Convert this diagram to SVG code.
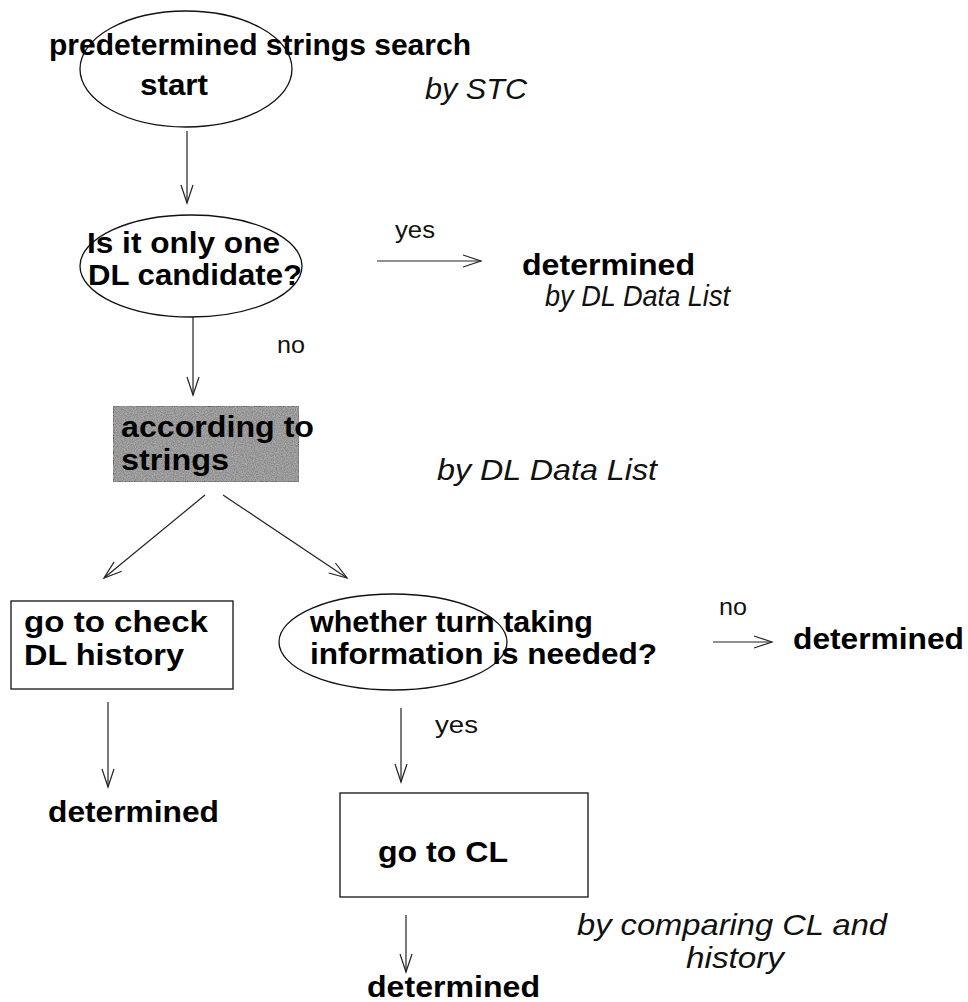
<svg xmlns="http://www.w3.org/2000/svg" width="968" height="1002" viewBox="0 0 968 1002">
<defs>
<style>
.b{font-family:"Liberation Sans",Arial,sans-serif;font-weight:bold;font-size:30px;fill:#000}
.i{font-family:"Liberation Sans",Arial,sans-serif;font-style:italic;font-size:29px;fill:#111}
.s{font-family:"Liberation Sans",Arial,sans-serif;font-size:23px;fill:#111}
.sh{fill:none;stroke:#111;stroke-width:1.3}
.c{fill:none;stroke:#222;stroke-width:1.2}
</style>
<marker id="ah" markerUnits="userSpaceOnUse" markerWidth="24" markerHeight="16" refX="18" refY="6" orient="auto" overflow="visible">
<path d="M0,0 L18,6 L0,12" fill="none" stroke="#222" stroke-width="1.2"/>
</marker>
<filter id="grain" x="0" y="0" width="100%" height="100%">
<feTurbulence type="fractalNoise" baseFrequency="0.9" numOctaves="2" seed="3" result="n"/>
<feColorMatrix in="n" type="matrix" values="0 0 0 0 0.5  0 0 0 0 0.5  0 0 0 0 0.5  0 0 0 1.4 -0.4" result="g"/>
<feComposite in="g" in2="SourceGraphic" operator="in" result="gi"/>
<feMerge><feMergeNode in="SourceGraphic"/><feMergeNode in="gi"/></feMerge>
</filter>
</defs>
<rect width="968" height="1002" fill="#fff"/>

<g id="connectors">
<line class="c" x1="187" y1="131" x2="187" y2="203" marker-end="url(#ah)"/>
<line class="c" x1="377" y1="261" x2="481" y2="261" marker-end="url(#ah)"/>
<line class="c" x1="193" y1="317" x2="193" y2="395" marker-end="url(#ah)"/>
<line class="c" x1="205" y1="495" x2="104" y2="578" marker-end="url(#ah)"/>
<line class="c" x1="223" y1="495" x2="347" y2="578" marker-end="url(#ah)"/>
<line class="c" x1="713" y1="642" x2="772" y2="642" marker-end="url(#ah)"/>
<line class="c" x1="108" y1="702" x2="108" y2="787" marker-end="url(#ah)"/>
<line class="c" x1="401" y1="708" x2="401" y2="782" marker-end="url(#ah)"/>
<line class="c" x1="406" y1="915" x2="406" y2="972" marker-end="url(#ah)"/>
</g>

<g id="labels">
<text class="s" x="395" y="238" textLength="40" lengthAdjust="spacingAndGlyphs">yes</text>
<text class="s" x="277" y="353" textLength="28" lengthAdjust="spacingAndGlyphs">no</text>
<text class="s" x="719" y="615" textLength="28" lengthAdjust="spacingAndGlyphs">no</text>
<text class="s" x="435" y="733" textLength="43" lengthAdjust="spacingAndGlyphs">yes</text>
</g>

<g id="start">
<ellipse class="sh" cx="186" cy="69" rx="106" ry="58"/>
<text class="b" x="49" y="55" textLength="422" lengthAdjust="spacingAndGlyphs">predetermined strings search</text>
<text class="b" x="140" y="95" textLength="68" lengthAdjust="spacingAndGlyphs">start</text>
<text class="i" x="425" y="99" textLength="102" lengthAdjust="spacingAndGlyphs">by STC</text>
</g>

<g id="q1">
<ellipse class="sh" cx="191" cy="266" rx="111" ry="51"/>
<text class="b" x="87" y="253" textLength="193" lengthAdjust="spacingAndGlyphs">Is it only one</text>
<text class="b" x="88" y="285" textLength="214" lengthAdjust="spacingAndGlyphs">DL candidate?</text>
</g>

<g id="det1">
<text class="b" x="522" y="275" textLength="173" lengthAdjust="spacingAndGlyphs">determined</text>
<text class="i" x="545" y="306" textLength="185" lengthAdjust="spacingAndGlyphs">by DL Data List</text>
</g>

<g id="strings">
<rect x="113" y="406" width="186" height="76" fill="#888" stroke="#444" stroke-width="1.2" filter="url(#grain)"/>
<text class="b" x="121" y="437" textLength="193" lengthAdjust="spacingAndGlyphs">according to</text>
<text class="b" x="121" y="470" textLength="108" lengthAdjust="spacingAndGlyphs">strings</text>
<text class="i" x="437" y="480" textLength="220" lengthAdjust="spacingAndGlyphs">by DL Data List</text>
</g>

<g id="history">
<rect class="sh" x="11" y="601" width="222" height="88"/>
<text class="b" x="24" y="632" textLength="184" lengthAdjust="spacingAndGlyphs">go to check</text>
<text class="b" x="24" y="665" textLength="160" lengthAdjust="spacingAndGlyphs">DL history</text>
</g>

<g id="q2">
<ellipse class="sh" cx="393" cy="642" rx="114" ry="48"/>
<text class="b" x="310" y="632" textLength="283" lengthAdjust="spacingAndGlyphs">whether turn taking</text>
<text class="b" x="310" y="664" textLength="347" lengthAdjust="spacingAndGlyphs">information is needed?</text>
</g>

<g id="det2">
<text class="b" x="793" y="649" textLength="171" lengthAdjust="spacingAndGlyphs">determined</text>
</g>

<g id="det3">
<text class="b" x="48" y="822" textLength="171" lengthAdjust="spacingAndGlyphs">determined</text>
</g>

<g id="cl">
<rect class="sh" x="340" y="793" width="248" height="104"/>
<text class="b" x="378" y="862" textLength="130" lengthAdjust="spacingAndGlyphs">go to CL</text>
<text class="i" x="577" y="935" textLength="310" lengthAdjust="spacingAndGlyphs">by comparing CL and</text>
<text class="i" x="686" y="968" textLength="98" lengthAdjust="spacingAndGlyphs">history</text>
</g>

<g id="det4">
<text class="b" x="367" y="997" textLength="173" lengthAdjust="spacingAndGlyphs">determined</text>
</g>
</svg>
